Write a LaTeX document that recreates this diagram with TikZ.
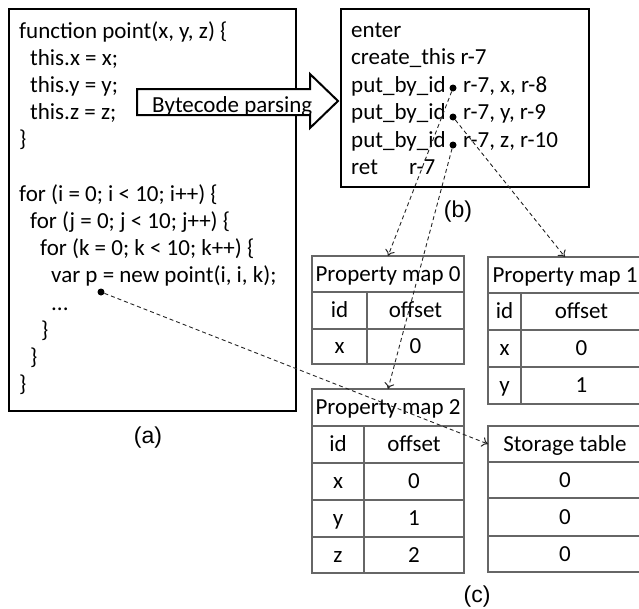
\documentclass[tikz,border=0pt]{standalone}
\usepackage{fontspec}
\setmainfont{Carlito}
\newfontfamily\arialfont{Liberation Sans}
\usetikzlibrary{arrows.meta}
\begin{document}
\begin{tikzpicture}[x=1pt,y=-1pt,
  txt/.style={inner sep=0pt,anchor=base west,font=\fontsize{23}{27}\selectfont},
  lbl/.style={inner sep=0pt,anchor=center,font=\arialfont\fontsize{23}{27}\selectfont},
  bigbox/.style={draw=black,line width=2pt,anchor=north west,outer sep=0pt,inner sep=0pt},
  cell/.style={draw=black!60,line width=1.2pt,anchor=north west,outer sep=0pt,inner sep=0pt,
     text height=16pt,text depth=2pt,font=\fontsize{23}{27}\selectfont},
  dotn/.style={circle,fill=black,inner sep=0pt,minimum size=7pt},
  conn/.style={draw=black!85,line width=0.9pt,dash pattern=on 4pt off 3pt,
     -{To[length=6pt,width=10pt,line width=1pt]}},
]
\useasboundingbox (0,0) rectangle (639,608);

% ---------- (a) code box ----------
\node[bigbox,minimum width=287pt,minimum height=402pt] (code) at (9,9) {};
\node[txt] (c1) at (19,38) {function point(x, y, z) \{};
\node[txt] (c2) at (30,65.2) {this.x = x;};
\node[txt] (c3) at (30,92.4) {this.y = y;};
\node[txt] (c4) at (30,119.6) {this.z = z;};
\node[txt] (c5) at (19,146.8) {\}};
\node[txt] (c6) at (19,201.2) {for (i = 0; i < 10; i++) \{};
\node[txt] (c7) at (30,228.4) {for (j = 0; j < 10; j++) \{};
\node[txt] (c8) at (40,255.6) {for (k = 0; k < 10; k++) \{};
\node[txt] (c9) at (51,282.8) {var p = new point(i, i, k);};
\node[txt] (c10) at (51,310) {...};
\node[txt] (c11) at (41,337.2) {\}};
\node[txt] (c12) at (30,364.4) {\}};
\node[txt] (c13) at (19,391.6) {\}};
\node[lbl] (la) at (148,438) {(a)};

% ---------- big arrow ----------
\draw[line width=2pt,fill=white,line join=miter]
  (137,89) -- (310,89) -- (310,74) -- (338,101) -- (310,128) -- (310,115) -- (137,115) -- cycle;
\node[txt] (bp) at (152,112) {Bytecode parsing};

% ---------- (b) bytecode box ----------
\node[bigbox,minimum width=248pt,minimum height=178pt] (bc) at (341,9) {};
\node[txt] (b1) at (351,37) {enter};
\node[txt] (b2) at (351,64.5) {create\_this r-7};
\node[txt] (b3) at (351,92) {put\_by\_id};
\node[txt] (b3r) at (463,92) {r-7, x, r-8};
\node[txt] (b4) at (351,119.5) {put\_by\_id};
\node[txt] (b4r) at (463,119.5) {r-7, y, r-9};
\node[txt] (b5) at (351,147) {put\_by\_id};
\node[txt] (b5r) at (463,147) {r-7, z, r-10};
\node[txt] (b6) at (351,174.5) {ret};
\node[txt] (b6r) at (409,174.5) {r-7};
\node[lbl] (lb) at (458,212) {(b)};

% ---------- Property map 0 ----------
\node[cell,minimum width=152pt,minimum height=36pt] (p0h) at (312,256) {Property map 0};
\node[cell,minimum width=55pt,minimum height=37pt] (p0a) at (312,292) {id};
\node[cell,minimum width=97pt,minimum height=37pt] (p0b) at (367,292) {offset};
\node[cell,minimum width=55pt,minimum height=35pt] (p0c) at (312,329) {x};
\node[cell,minimum width=97pt,minimum height=35pt] (p0d) at (367,329) {0};

% ---------- Property map 1 ----------
\node[cell,minimum width=154pt,minimum height=36pt] (p1h) at (488,257) {Property map 1};
\node[cell,minimum width=33pt,minimum height=37pt] (p1a) at (488,293) {id};
\node[cell,minimum width=121pt,minimum height=37pt] (p1b) at (521,293) {offset};
\node[cell,minimum width=33pt,minimum height=37pt] (p1c) at (488,330) {x};
\node[cell,minimum width=121pt,minimum height=37pt] (p1d) at (521,330) {0};
\node[cell,minimum width=33pt,minimum height=37pt] (p1e) at (488,367) {y};
\node[cell,minimum width=121pt,minimum height=37pt] (p1f) at (521,367) {1};

% ---------- Property map 2 ----------
\node[cell,minimum width=152pt,minimum height=37pt] (p2h) at (312,389) {Property map 2};
\node[cell,minimum width=52pt,minimum height=37pt] (p2a) at (312,426) {id};
\node[cell,minimum width=100pt,minimum height=37pt] (p2b) at (364,426) {offset};
\node[cell,minimum width=52pt,minimum height=37pt] (p2c) at (312,463) {x};
\node[cell,minimum width=100pt,minimum height=37pt] (p2d) at (364,463) {0};
\node[cell,minimum width=52pt,minimum height=37pt] (p2e) at (312,500) {y};
\node[cell,minimum width=100pt,minimum height=37pt] (p2f) at (364,500) {1};
\node[cell,minimum width=52pt,minimum height=36pt] (p2g) at (312,537) {z};
\node[cell,minimum width=100pt,minimum height=36pt] (p2k) at (364,537) {2};

% ---------- Storage table ----------
\node[cell,minimum width=154pt,minimum height=36pt] (sth) at (488,426) {Storage table};
\node[cell,minimum width=154pt,minimum height=36pt] (st1) at (488,462) {0};
\node[cell,minimum width=154pt,minimum height=38pt] (st2) at (488,498) {0};
\node[cell,minimum width=154pt,minimum height=36pt] (st3) at (488,536) {0};
\node[lbl] (lc) at (477,597) {(c)};

% ---------- dots and connectors ----------
\node[dotn] (d1) at (453,88) {};
\node[dotn] (d2) at (453,117) {};
\node[dotn] (d3) at (453,145) {};
\node[dotn] (dp) at (101,292) {};
\draw[conn] (d1) -- (p0h.north);
\draw[conn] (d2) -- (p1h.north);
\draw[conn] (d3) -- (p2h.north);
\draw[conn] (dp) -- (sth.west);
\end{tikzpicture}
\end{document}
